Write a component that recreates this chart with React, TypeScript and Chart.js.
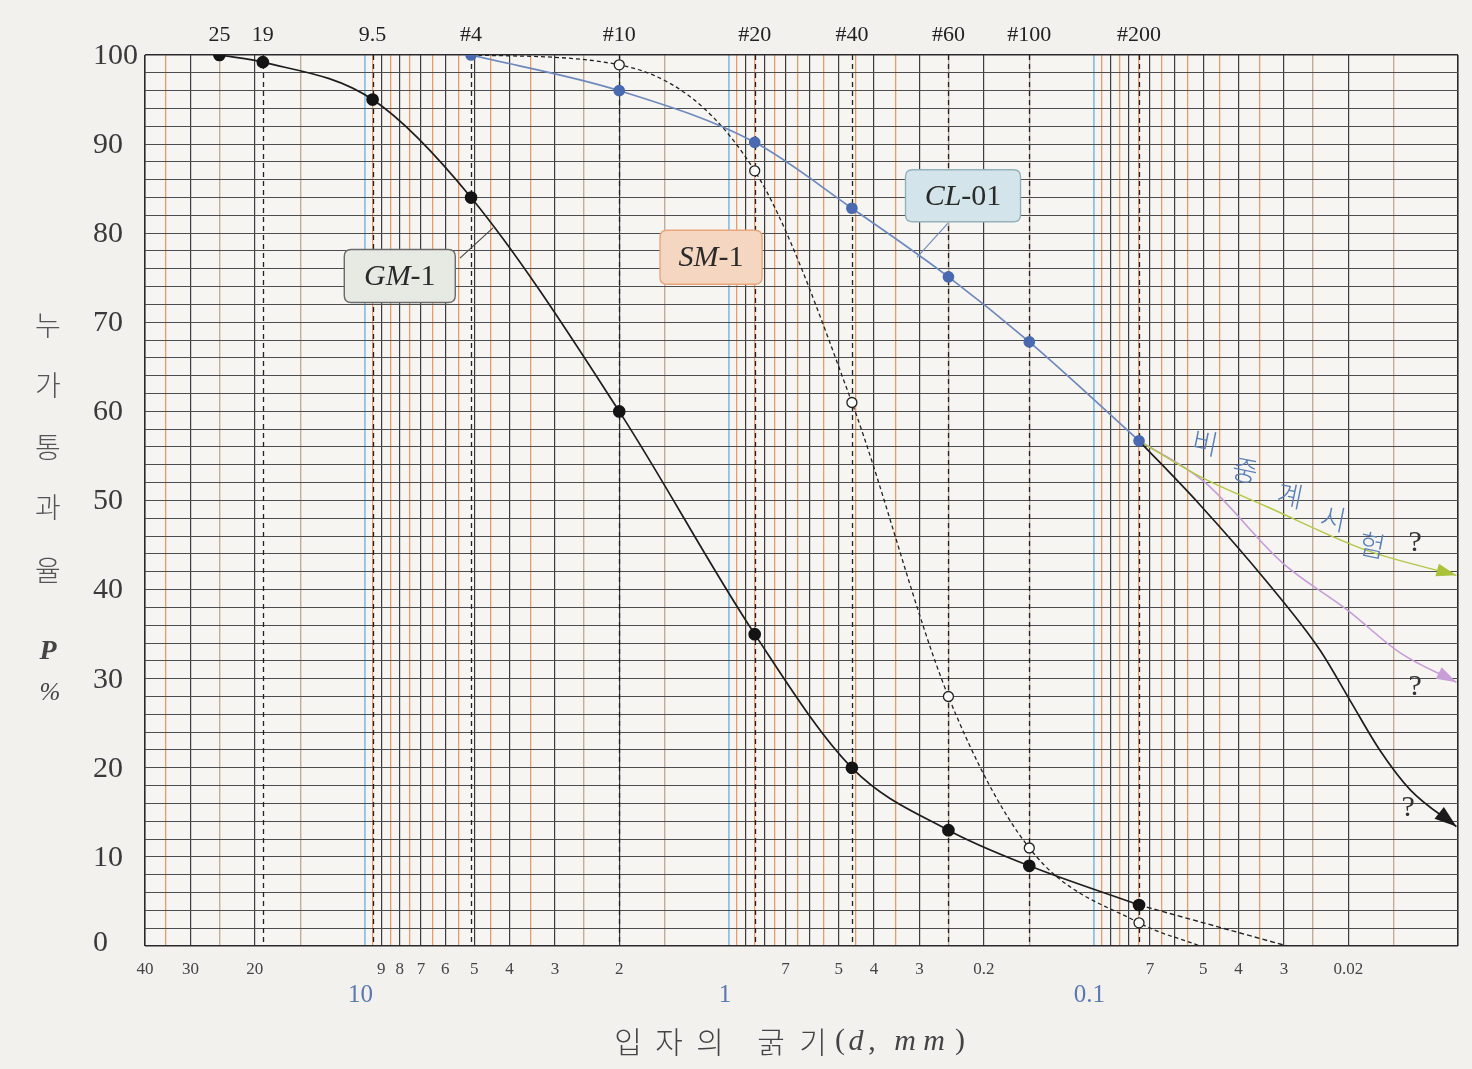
import React, { useEffect, useRef } from "react";
import { Chart, registerables } from "chart.js";

Chart.register(...registerables);

// ---------------- data ----------------
// sieve positions as plotted on the sheet (mm)
const sieveSizes = [25, 19, 9.5, 5.1, 2, 0.85, 0.46, 0.25, 0.15, 0.075];
const sieveLabels = ["25", "19", "9.5", "#4", "#10", "#20", "#40", "#60", "#100", "#200"];
const dashedSieveSizes = [19, 9.5, 5.1, 2, 0.85, 0.46, 0.25, 0.15, 0.075];

// GM-1 (solid black, filled dots)
const gmSizes = [25, 19, 9.5, 5.1, 2, 0.85, 0.46, 0.25, 0.15, 0.075];
const gmPassing = [100, 99.2, 95, 84, 60, 35, 20, 13, 9, 4.6];
// GM-1 dashed tail below #200
const gmTailSizes = [0.075, 0.0294];
const gmTailPassing = [4.6, 0];

// SM-1 (dashed black, open circles)
const smSizes = [5.1, 2, 0.85, 0.46, 0.25, 0.15, 0.075, 0.051];
const smPassing = [100, 98.9, 87, 61, 28, 11, 2.6, 0];

// CL-01 (blue, filled dots)
const clSizes = [5.1, 2, 0.85, 0.46, 0.25, 0.15, 0.075];
const clPassing = [100, 96, 90.2, 82.8, 75.1, 67.8, 56.7];

// hydrometer-test extrapolations from CL-01
const extBlackSizes = [0.075, 0.051, 0.0338, 0.0239, 0.0198, 0.0164, 0.0135, 0.0101];
const extBlackPassing = [56.7, 49.5, 41.1, 33.2, 27.6, 22, 17.5, 13.4];
const extGreenSizes = [0.075, 0.05, 0.0334, 0.0178, 0.0101];
const extGreenPassing = [56.7, 52.5, 49.3, 44.4, 41.6];
const extPurpleSizes = [0.075, 0.05, 0.0303, 0.0201, 0.0144, 0.0101];
const extPurplePassing = [56.7, 52.2, 43, 37.7, 32.9, 29.6];

// axis labels
const xTickValues = [40, 30, 20, 9, 8, 7, 6, 5, 4, 3, 2, 0.7, 0.5, 0.4, 0.3, 0.2, 0.07, 0.05, 0.04, 0.03, 0.02];
const xTickLabels = ["40", "30", "20", "9", "8", "7", "6", "5", "4", "3", "2", "7", "5", "4", "3", "0.2", "7", "5", "4", "3", "0.02"];
const decadeValues = [10, 1, 0.1];
const decadeLabels = ["10", "1", "0.1"];
const yTickValues = [0, 10, 20, 30, 40, 50, 60, 70, 80, 90, 100];
const yTitleChars = ["누", "가", "통", "과", "율"];

// grid definition (semi-log paper)
const decadeBases = [0.01, 0.1, 1, 10];
const gridMultipliers = [1, 1.5, 2, 2.5, 3, 3.5, 4, 4.5, 5, 5.5, 6, 6.5, 7, 7.5, 8, 8.5, 9, 9.5];
const X_MIN = 0.01;
const X_MAX = 40;
const yGridValues = Array.from({ length: 51 }, (_, i) => i * 2);

// annotations (in data units: size mm, percent passing)
const labelBoxes = [
  { name: "GM", suffix: "-1", d: 8.0, p: 75.2, w: 111, h: 53, fill: "#e7eae2", stroke: "#6a6a6a" },
  { name: "SM", suffix: "-1", d: 1.12, p: 77.3, w: 102, h: 54, fill: "#f5d6c0", stroke: "#e9a57c" },
  { name: "CL", suffix: "-01", d: 0.228, p: 84.2, w: 115, h: 52, fill: "#d3e5ea", stroke: "#93b2ba" },
];
const leaders = [
  { d1: 5.47, p1: 77.2, d2: 4.44, p2: 80.6, color: "#444" },
  { d1: 0.251, p1: 81.1, d2: 0.305, p2: 77.3, color: "#6f88bd" },
];
const questionMarks = [
  { d: 0.0131, p: 45.2 },
  { d: 0.0131, p: 29 },
  { d: 0.0137, p: 15.5 },
];
const hydroChars = ["비", "중", "계", "시", "험"];
const hydroSizes = [0.0494, 0.0384, 0.0289, 0.022, 0.0172];
const hydroPassing = [56.5, 53.4, 50.6, 48.0, 45.0];

// -------------- helpers --------------
const SERIF = "'Liberation Serif', 'DejaVu Serif', serif";
const KR = "'Noto Sans CJK KR', 'Noto Sans', sans-serif";

function buildXGrid(): number[] {
  const out: number[] = [];
  for (const b of decadeBases) {
    for (const k of gridMultipliers) {
      const v = Math.round(k * b * 1e6) / 1e6;
      if (v >= X_MIN - 1e-9 && v <= X_MAX + 1e-9) out.push(v);
    }
  }
  return out;
}

function xGridStyle(v: number): [string, number] {
  if (Math.abs(v - X_MIN) < 1e-9 || Math.abs(v - X_MAX) < 1e-6) return ["#2a2a2a", 1.6];
  const exp = Math.floor(Math.log10(v) + 1e-9);
  const k = Math.round((v / Math.pow(10, exp)) * 10) / 10;
  if (k === 1) return ["#8cc3e6", 1.8];
  if (Number.isInteger(k)) return ["#3c3c3c", 1.2];
  if (k >= 3) return ["#e89c6c", 1.3];
  return ["#c4ad98", 1.4];
}

function pts(xs: number[], ys: number[]) {
  return xs.map((x, i) => ({ x, y: ys[i] }));
}

function arrowHead(ctx: CanvasRenderingContext2D, tx: number, ty: number, fx: number, fy: number, len: number, half: number, color: string) {
  const a = Math.atan2(ty - fy, tx - fx);
  const c = Math.cos(a);
  const s = Math.sin(a);
  ctx.beginPath();
  ctx.moveTo(tx, ty);
  ctx.lineTo(tx - len * c + half * s, ty - len * s - half * c);
  ctx.lineTo(tx - len * c - half * s, ty - len * s + half * c);
  ctx.closePath();
  ctx.fillStyle = color;
  ctx.fill();
}

function roundRectPath(ctx: CanvasRenderingContext2D, x: number, y: number, w: number, h: number, r: number) {
  ctx.beginPath();
  ctx.moveTo(x + r, y);
  ctx.lineTo(x + w - r, y);
  ctx.quadraticCurveTo(x + w, y, x + w, y + r);
  ctx.lineTo(x + w, y + h - r);
  ctx.quadraticCurveTo(x + w, y + h, x + w - r, y + h);
  ctx.lineTo(x + r, y + h);
  ctx.quadraticCurveTo(x, y + h, x, y + h - r);
  ctx.lineTo(x, y + r);
  ctx.quadraticCurveTo(x, y, x + r, y);
  ctx.closePath();
}

const paperPlugin = {
  id: "paper",
  beforeDraw(chart: any) {
    const { ctx, width, height, chartArea: a } = chart;
    ctx.save();
    ctx.fillStyle = "#f2f1ee";
    ctx.fillRect(0, 0, width, height);
    ctx.fillStyle = "#f6f5f2";
    ctx.fillRect(a.left, a.top, a.right - a.left, a.bottom - a.top);
    ctx.restore();
  },
  beforeDatasetsDraw(chart: any) {
    const { ctx, chartArea: a, scales } = chart;
    const xs = scales.x;
    ctx.save();
    ctx.strokeStyle = "#222";
    ctx.lineWidth = 1.3;
    ctx.setLineDash([5, 4]);
    for (const v of dashedSieveSizes) {
      const px = Math.round(xs.getPixelForValue(v)) + 0.5;
      ctx.beginPath();
      ctx.moveTo(px, a.top);
      ctx.lineTo(px, a.bottom);
      ctx.stroke();
    }
    ctx.restore();
  },
  afterDatasetsDraw(chart: any) {
    const { ctx, chartArea: a, scales } = chart;
    const xs = scales.x;
    const ys = scales.y;
    ctx.save();

    // arrow heads on extrapolation lines (datasets 3,4,5)
    const arrowColors = ["#1a1a1a", "#a9c23a", "#c79fd6"];
    [3, 4, 5].forEach((di, j) => {
      const meta = chart.getDatasetMeta(di);
      const n = meta.data.length;
      const last = meta.data[n - 1];
      const prev = meta.data[n - 2];
      let fx = last.cp1x ?? prev.x;
      let fy = last.cp1y ?? prev.y;
      if (Math.hypot(last.x - fx, last.y - fy) < 2) {
        fx = prev.x;
        fy = prev.y;
      }
      arrowHead(ctx, last.x, last.y, fx, fy, j === 0 ? 22 : 20, j === 0 ? 7.5 : 6.5, arrowColors[j]);
    });

    // leader lines
    ctx.lineWidth = 1.1;
    for (const l of leaders) {
      ctx.strokeStyle = l.color;
      ctx.beginPath();
      ctx.moveTo(xs.getPixelForValue(l.d1), ys.getPixelForValue(l.p1));
      ctx.lineTo(xs.getPixelForValue(l.d2), ys.getPixelForValue(l.p2));
      ctx.stroke();
    }

    // label boxes
    for (const b of labelBoxes) {
      const cx = xs.getPixelForValue(b.d);
      const cy = ys.getPixelForValue(b.p);
      roundRectPath(ctx, cx - b.w / 2, cy - b.h / 2, b.w, b.h, 7);
      ctx.fillStyle = b.fill;
      ctx.fill();
      ctx.strokeStyle = b.stroke;
      ctx.lineWidth = 1.4;
      ctx.stroke();
      const fi = `italic 30px ${SERIF}`;
      const fr = `30px ${SERIF}`;
      ctx.font = fi;
      const w1 = ctx.measureText(b.name).width;
      ctx.font = fr;
      const w2 = ctx.measureText(b.suffix).width;
      const sx = cx - (w1 + w2) / 2;
      ctx.fillStyle = "#2a2a2a";
      ctx.textBaseline = "middle";
      ctx.textAlign = "left";
      ctx.font = fi;
      ctx.fillText(b.name, sx, cy + 1);
      ctx.font = fr;
      ctx.fillText(b.suffix, sx + w1, cy + 1);
    }

    // question marks
    ctx.font = `30px ${SERIF}`;
    ctx.fillStyle = "#333";
    ctx.textAlign = "center";
    ctx.textBaseline = "middle";
    for (const q of questionMarks) {
      ctx.fillText("?", xs.getPixelForValue(q.d), ys.getPixelForValue(q.p));
    }

    // hydrometer test text
    ctx.font = `300 28px ${KR}`;
    ctx.fillStyle = "#5b7fb8";
    hydroChars.forEach((ch, i) => {
      const px = xs.getPixelForValue(hydroSizes[i]);
      const py = ys.getPixelForValue(hydroPassing[i]);
      ctx.save();
      ctx.translate(px, py);
      ctx.rotate(0.2);
      ctx.fillText(ch, 0, 0);
      ctx.restore();
    });

    // top sieve labels
    ctx.font = `22px ${SERIF}`;
    ctx.fillStyle = "#222";
    ctx.textAlign = "center";
    ctx.textBaseline = "middle";
    sieveSizes.forEach((v, i) => {
      ctx.fillText(sieveLabels[i], xs.getPixelForValue(v), a.top - 20);
    });

    // bottom tick labels
    ctx.font = `17px ${SERIF}`;
    ctx.fillStyle = "#444";
    xTickValues.forEach((v, i) => {
      ctx.fillText(xTickLabels[i], xs.getPixelForValue(v), a.bottom + 24);
    });
    ctx.font = `25px ${SERIF}`;
    ctx.fillStyle = "#5b78b0";
    decadeValues.forEach((v, i) => {
      ctx.fillText(decadeLabels[i], xs.getPixelForValue(v) - 4, a.bottom + 49);
    });

    // y tick labels
    ctx.font = `30px ${SERIF}`;
    ctx.fillStyle = "#3a3a3a";
    ctx.textAlign = "left";
    yTickValues.forEach((v) => {
      ctx.fillText(String(v), 93, ys.getPixelForValue(v) + (v === 0 ? -3 : 1));
    });

    // y title (vertical)
    ctx.textAlign = "center";
    ctx.font = `300 28px ${KR}`;
    ctx.fillStyle = "#555";
    const yTitleY = [325, 385, 447, 507, 570];
    yTitleChars.forEach((ch, i) => ctx.fillText(ch, 48, yTitleY[i]));
    ctx.font = `italic bold 28px ${SERIF}`;
    ctx.fillStyle = "#444";
    ctx.fillText("P", 48, 652);
    ctx.font = `italic 25px ${SERIF}`;
    ctx.fillText("%", 50, 693);

    // x title
    const ty = 1042;
    ctx.fillStyle = "#444";
    ctx.font = `300 30px ${KR}`;
    const krChars: [string, number][] = [["입", 628], ["자", 669], ["의", 710], ["굵", 771], ["기", 813]];
    for (const [ch, x] of krChars) ctx.fillText(ch, x, ty);
    ctx.font = `30px ${SERIF}`;
    ctx.fillText("(", 840, ty - 1);
    ctx.font = `italic 30px ${SERIF}`;
    ctx.fillText("d", 856, ty);
    ctx.font = `30px ${SERIF}`;
    ctx.fillText(",", 872, ty);
    ctx.font = `italic 30px ${SERIF}`;
    ctx.fillText("m", 905, ty);
    ctx.fillText("m", 934, ty);
    ctx.font = `30px ${SERIF}`;
    ctx.fillText(")", 960, ty - 1);

    ctx.restore();
  },
};

export default function App() {
  const ref = useRef<HTMLCanvasElement>(null);
  useEffect(() => {
    const canvas = ref.current;
    if (!canvas) return;
    const xGrid = buildXGrid();
    const chart = new Chart(canvas, {
      type: "line",
      data: {
        datasets: [
          {
            label: "CL-01",
            data: pts(clSizes, clPassing),
            borderColor: "#6f88bd",
            borderWidth: 1.7,
            pointRadius: 5,
            pointBackgroundColor: "#4a69b0",
            pointBorderColor: "#4a69b0",
            cubicInterpolationMode: "monotone",
            fill: false,
          },
          {
            label: "GM-1",
            data: pts(gmSizes, gmPassing),
            borderColor: "#1e1e1e",
            borderWidth: 1.7,
            pointRadius: 5.5,
            pointBackgroundColor: "#141414",
            pointBorderColor: "#141414",
            cubicInterpolationMode: "monotone",
            fill: false,
          },
          {
            label: "SM-1",
            data: pts(smSizes, smPassing),
            borderColor: "#222",
            borderWidth: 1.3,
            borderDash: [4, 3],
            pointRadius: smSizes.map((_, i) => (i === 0 || i === smSizes.length - 1 ? 0 : 5)),
            pointBackgroundColor: "#fbfbf9",
            pointBorderColor: "#222",
            pointBorderWidth: 1.3,
            cubicInterpolationMode: "monotone",
            fill: false,
          },
          {
            label: "ext-black",
            data: pts(extBlackSizes, extBlackPassing),
            borderColor: "#1e1e1e",
            borderWidth: 1.7,
            pointRadius: 0,
            cubicInterpolationMode: "monotone",
            fill: false,
          },
          {
            label: "ext-green",
            data: pts(extGreenSizes, extGreenPassing),
            borderColor: "#b3c846",
            borderWidth: 1.4,
            pointRadius: 0,
            cubicInterpolationMode: "monotone",
            fill: false,
          },
          {
            label: "ext-purple",
            data: pts(extPurpleSizes, extPurplePassing),
            borderColor: "#c79bd8",
            borderWidth: 1.6,
            pointRadius: 0,
            cubicInterpolationMode: "monotone",
            fill: false,
          },
          {
            label: "GM-1 tail",
            data: pts(gmTailSizes, gmTailPassing),
            borderColor: "#222",
            borderWidth: 1.4,
            borderDash: [5, 3],
            pointRadius: 0,
            fill: false,
          },
        ],
      },
      options: {
        responsive: false,
        animation: false,
        devicePixelRatio: 1,
        layout: { padding: { left: 145, right: 14, top: 55, bottom: 123 } },
        plugins: {
          legend: { display: false },
          tooltip: { enabled: false },
          title: { display: false },
        },
        scales: {
          x: {
            type: "logarithmic",
            reverse: true,
            min: X_MIN,
            max: X_MAX,
            afterBuildTicks: (axis: any) => {
              axis.ticks = xGrid.map((v) => ({ value: v }));
            },
            ticks: { display: false, autoSkip: false },
            border: { display: false },
            grid: {
              drawTicks: false,
              color: (c: any) => xGridStyle(c.tick.value)[0],
              lineWidth: (c: any) => xGridStyle(c.tick.value)[1],
            },
          },
          y: {
            type: "linear",
            min: 0,
            max: 100,
            afterBuildTicks: (axis: any) => {
              axis.ticks = yGridValues.map((v) => ({ value: v }));
            },
            ticks: { display: false, autoSkip: false },
            border: { display: false },
            grid: {
              drawTicks: false,
              color: (c: any) => (c.tick.value === 0 || c.tick.value === 100 ? "#2a2a2a" : "#4d4d4d"),
              lineWidth: (c: any) => (c.tick.value === 0 || c.tick.value === 100 ? 1.6 : 1.1),
            },
          },
        },
      } as any,
      plugins: [paperPlugin as any],
    });
    return () => chart.destroy();
  }, []);
  return (
    <canvas
      ref={ref}
      width={1472}
      height={1069}
      style={{ position: "absolute", left: 0, top: 0, display: "block", width: 1472, height: 1069 }}
    />
  );
}
